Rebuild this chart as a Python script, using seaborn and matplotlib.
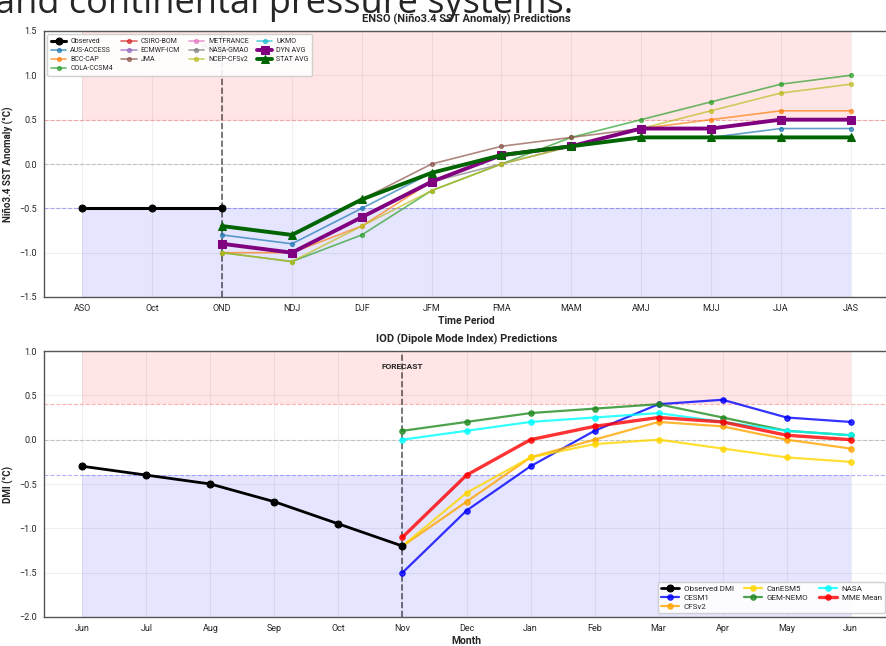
import numpy as np
import pandas as pd
import matplotlib
matplotlib.use('Agg')
import matplotlib.pyplot as plt
import seaborn as sns

sns.set_style('whitegrid')
plt.rcParams['font.family'] = ['Liberation Sans Narrow', 'Roboto', 'DejaVu Sans']

# ---------------- ENSO data ----------------
enso_periods = ['ASO', 'Oct', 'OND', 'NDJ', 'DJF', 'JFM', 'FMA', 'MAM', 'AMJ', 'MJJ', 'JJA', 'JAS']
enso_obs = [-0.5, -0.5, -0.5]
enso_fc_periods = enso_periods[2:]

aus_access = [-0.8, -0.9, -0.5, -0.1, 0.1, 0.2, 0.3, 0.3, 0.4, 0.4]
bcc_cap = [-1.0, -1.0, -0.7, -0.2, 0.1, 0.2, 0.4, 0.5, 0.6, 0.6]
cola_ccsm4 = [-1.0, -1.1, -0.8, -0.3, 0.0, 0.3, 0.5, 0.7, 0.9, 1.0]
csiro_bom = [-0.9, -1.0, -0.6, -0.2, 0.1, 0.2, 0.4, 0.4, 0.5, 0.5]
ecmwf_icm = [-0.9, -1.0, -0.6, -0.2, 0.1, 0.2, 0.4, 0.4, 0.5, 0.5]
jma = [-0.7, -0.8, -0.4, 0.0, 0.2, 0.3, 0.4, 0.4, 0.5, 0.5]
metfrance = [-0.9, -1.0, -0.6, -0.2, 0.1, 0.2, 0.4, 0.4, 0.5, 0.5]
nasa_gmao = [-0.9, -1.0, -0.6, -0.2, 0.0, 0.2, 0.3, 0.3, 0.3, 0.3]
ncep_cfsv2 = [-1.0, -1.1, -0.7, -0.3, 0.0, 0.2, 0.4, 0.6, 0.8, 0.9]
ukmo = [-0.9, -1.0, -0.6, -0.2, 0.1, 0.2, 0.4, 0.4, 0.5, 0.5]
dyn_avg = [-0.9, -1.0, -0.6, -0.2, 0.1, 0.2, 0.4, 0.4, 0.5, 0.5]
stat_avg = [-0.7, -0.8, -0.4, -0.1, 0.1, 0.2, 0.3, 0.3, 0.3, 0.3]

enso_models = {
    'AUS-ACCESS': (aus_access, 'tab:blue'),
    'BCC-CAP': (bcc_cap, 'tab:orange'),
    'COLA-CCSM4': (cola_ccsm4, 'tab:green'),
    'CSIRO-BOM': (csiro_bom, 'tab:red'),
    'ECMWF-ICM': (ecmwf_icm, 'tab:purple'),
    'JMA': (jma, 'tab:brown'),
    'METFRANCE': (metfrance, 'tab:pink'),
    'NASA-GMAO': (nasa_gmao, 'tab:gray'),
    'NCEP-CFSv2': (ncep_cfsv2, 'tab:olive'),
    'UKMO': (ukmo, 'tab:cyan'),
}

# ---------------- IOD data ----------------
iod_months = ['Jun', 'Jul', 'Aug', 'Sep', 'Oct', 'Nov', 'Dec', 'Jan', 'Feb', 'Mar', 'Apr', 'May', 'Jun']
iod_obs = [-0.3, -0.4, -0.5, -0.7, -0.95, -1.2]
cesm1 = [-1.5, -0.8, -0.3, 0.1, 0.4, 0.45, 0.25, 0.2]
cfsv2 = [-1.2, -0.7, -0.2, 0.0, 0.2, 0.15, 0.0, -0.1]
canesm5 = [-1.2, -0.6, -0.2, -0.05, 0.0, -0.1, -0.2, -0.25]
gem_nemo = [0.1, 0.2, 0.3, 0.35, 0.4, 0.25, 0.1, 0.05]
nasa = [0.0, 0.1, 0.2, 0.25, 0.3, 0.2, 0.1, 0.05]
mme_mean = [-1.1, -0.4, 0.0, 0.15, 0.25, 0.2, 0.05, 0.0]

fig = plt.figure(figsize=(8.86, 6.46), dpi=100)
ax1 = fig.add_axes([44/886, 1-297/646, 845/886, 266/646])
ax2 = fig.add_axes([44/886, 1-617/646, 845/886, 266/646])

# leftover caption from the page above the chart
fig.text(-0.006, 1-13/646, 'and continental pressure systems.', fontsize=26,
         family='Open Sans', va='baseline', ha='left')

# ---------------- ENSO panel ----------------
xe = np.arange(len(enso_periods))
xf = xe[2:]
ax1.fill_between([xe[0], xe[-1]], 0.5, 1.5, color='red', alpha=0.1, lw=0)
ax1.fill_between([xe[0], xe[-1]], -1.5, -0.5, color='blue', alpha=0.1, lw=0)
ax1.axhline(0.5, color='red', ls='--', lw=0.8, alpha=0.3)
ax1.axhline(0.0, color='gray', ls='--', lw=0.8, alpha=0.4)
ax1.axhline(-0.5, color='blue', ls='--', lw=0.8, alpha=0.3)
ax1.axvline(2, color='black', ls='--', lw=1.2, alpha=0.6)
ax1.text(2, 1.33, 'FORECAST', ha='center', va='center', fontsize=6, fontweight='bold', alpha=0.7)

for name, (vals, col) in enso_models.items():
    sns.lineplot(x=xf, y=vals, ax=ax1, color=col, lw=1.2, marker='o', ms=3, alpha=0.7,
                 mec=col, label=name)
sns.lineplot(x=xf, y=dyn_avg, ax=ax1, color='purple', lw=2.8, marker='s', ms=5.5,
             mec='purple', label='DYN AVG')
sns.lineplot(x=xf, y=stat_avg, ax=ax1, color='darkgreen', lw=2.8, marker='^', ms=5.5,
             mec='darkgreen', label='STAT AVG')
sns.lineplot(x=xe[:3], y=enso_obs, ax=ax1, color='black', lw=2.2, marker='o', ms=5,
             mec='black', label='Observed', zorder=5)

h, l = ax1.get_legend_handles_labels()
order = [l.index('Observed')] + [i for i, lab in enumerate(l) if lab != 'Observed']

ax1.set_xlim(-0.55, 11.55)
ax1.set_ylim(-1.5, 1.5)
ax1.set_xticks(xe)
ax1.set_xticklabels(enso_periods)
ax1.set_yticks([-1.5, -1.0, -0.5, 0.0, 0.5, 1.0, 1.5])
ax1.set_title('ENSO (Niño3.4 SST Anomaly) Predictions', fontsize=8, fontweight='bold', pad=6)
ax1.set_xlabel('Time Period', fontsize=7.5, fontweight='bold', labelpad=2)
ax1.set_ylabel('Niño3.4 SST Anomaly (°C)', fontsize=7, fontweight='bold')
ax1.legend([h[i] for i in order], [l[i] for i in order], loc='upper left', ncol=4,
           fontsize=5, framealpha=0.9, handlelength=2.2, handletextpad=0.6,
           borderpad=0.5, labelspacing=0.3, columnspacing=1.2)

# ---------------- IOD panel ----------------
xi = np.arange(len(iod_months))
xif = xi[5:]
ax2.fill_between([xi[0], xi[-1]], 0.4, 1.0, color='red', alpha=0.1, lw=0)
ax2.fill_between([xi[0], xi[-1]], -2.0, -0.4, color='blue', alpha=0.1, lw=0)
ax2.axhline(0.4, color='red', ls='--', lw=0.8, alpha=0.3)
ax2.axhline(0.0, color='gray', ls='--', lw=0.8, alpha=0.4)
ax2.axhline(-0.4, color='blue', ls='--', lw=0.8, alpha=0.3)
ax2.axvline(5, color='black', ls='--', lw=1.2, alpha=0.6)
ax2.text(5, 0.83, 'FORECAST', ha='center', va='center', fontsize=6, fontweight='bold')

sns.lineplot(x=xi[:6], y=iod_obs, ax=ax2, color='black', lw=2, marker='o', ms=5,
             mec='black', label='Observed DMI', zorder=5)
iod_models = [('CESM1', cesm1, 'blue', 1.6), ('CFSv2', cfsv2, 'orange', 1.6),
              ('CanESM5', canesm5, 'gold', 1.6), ('GEM-NEMO', gem_nemo, 'forestgreen', 1.6),
              ('NASA', nasa, 'cyan', 1.6), ('MME Mean', mme_mean, 'red', 2.4)]
for name, vals, col, lw in iod_models:
    sns.lineplot(x=xif, y=vals, ax=ax2, color=col, lw=lw, marker='o', ms=4, alpha=0.8,
                 mec=col, label=name)

ax2.set_xlim(-0.6, 12.6)
ax2.set_ylim(-2.0, 1.0)
ax2.set_xticks(xi)
ax2.set_xticklabels(iod_months)
ax2.set_yticks([-2.0, -1.5, -1.0, -0.5, 0.0, 0.5, 1.0])
ax2.set_title('IOD (Dipole Mode Index) Predictions', fontsize=8, fontweight='bold', pad=6)
ax2.set_xlabel('Month', fontsize=7.5, fontweight='bold', labelpad=2)
ax2.set_ylabel('DMI (°C)', fontsize=7, fontweight='bold')
ax2.legend(loc='lower right', ncol=3, fontsize=5.8, framealpha=0.9, handlelength=2.2,
           handletextpad=0.6, borderpad=0.4, labelspacing=0.3, columnspacing=1.3)

for ax in (ax1, ax2):
    ax.grid(True, alpha=0.3)
    ax.tick_params(axis='both', labelsize=6.5, length=3, width=0.8, pad=2)
    for s in ax.spines.values():
        s.set_color('#555555')
        s.set_linewidth(1.0)
    ax.set_axisbelow(True)

fig.savefig('out.png', dpi=100)
